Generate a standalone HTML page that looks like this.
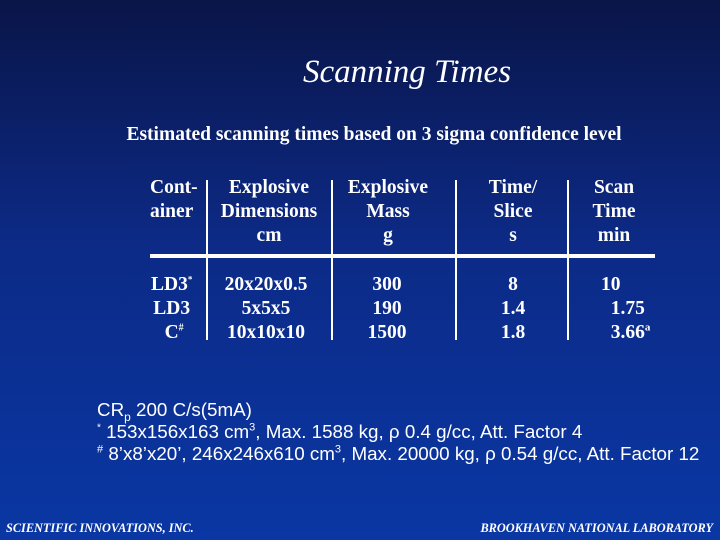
<!DOCTYPE html>
<html><head><meta charset="utf-8"><style>
body{margin:0;width:720px;height:540px;overflow:hidden;background:linear-gradient(180deg,#0a1548 0%,#0c2a86 45%,#0a37a4 100%);position:relative;font-family:"Liberation Serif",serif;color:#fff}
.t{position:absolute;white-space:nowrap;font-weight:bold;font-size:19.5px;line-height:24px}
.c{transform:translateX(-50%);text-align:center}
.v{position:absolute;width:2px;background:#fff;top:180px;height:160px}
.f{position:absolute;font-family:"Liberation Sans",sans-serif;font-size:18.8px;white-space:nowrap;line-height:22px}
.ft{position:absolute;top:521px;font-style:italic;font-weight:bold;font-size:12.3px}
sup,sub{line-height:0}
</style></head><body>
<div class="t c" style="left:407px;top:53px;font-size:33px;line-height:38px;font-style:italic;font-weight:normal">Scanning Times</div>
<div class="t c" style="left:374px;top:123px">Estimated scanning times based on 3 sigma confidence level</div>
<div>
<div class="v" style="left:206px"></div>
<div class="v" style="left:331px"></div>
<div class="v" style="left:455px"></div>
<div class="v" style="left:567px"></div>
<div style="position:absolute;left:150px;top:254px;width:505px;height:4px;background:#fff"></div>
<div class="t" style="left:150px;top:176px">Cont-<br>ainer</div>
<div class="t c" style="left:269px;top:176px">Explosive<br>Dimensions<br>cm</div>
<div class="t c" style="left:388px;top:176px">Explosive<br>Mass<br>g</div>
<div class="t c" style="left:513px;top:176px">Time/<br>Slice<br>s</div>
<div class="t c" style="left:614px;top:176px">Scan<br>Time<br>min</div>
<div class="t" style="left:151px;top:273px;text-align:center">LD3<sup style="font-size:9px">*</sup><br>LD3<br>&nbsp;C<sup style="font-size:10px">#</sup></div>
<div class="t c" style="left:266px;top:273px">20x20x0.5<br>5x5x5<br>10x10x10</div>
<div class="t c" style="left:387px;top:273px">300<br>190<br>1500</div>
<div class="t c" style="left:513px;top:273px">8<br>1.4<br>1.8</div>
<div class="t" style="left:601px;top:273px">10<br>&nbsp;&nbsp;1.75<br>&nbsp;&nbsp;3.66<sup style="font-size:11px">a</sup></div>
</div>
<div class="f" style="left:97px;top:399px">CR<sub style="font-size:12px">p</sub> 200 C/s(5mA)</div>
<div class="f" style="left:97px;top:421px"><sup style="font-size:10px">*</sup> 153x156x163 cm<sup style="font-size:11px">3</sup>, Max. 1588 kg, ρ 0.4 g/cc, Att. Factor 4</div>
<div class="f" style="left:97px;top:443px"><sup style="font-size:11px">#</sup> 8’x8’x20’, 246x246x610 cm<sup style="font-size:11px">3</sup>, Max. 20000 kg, ρ 0.54 g/cc, Att. Factor 12</div>
<div class="ft" style="left:6px">SCIENTIFIC INNOVATIONS, INC.</div>
<div class="ft" style="right:7px">BROOKHAVEN NATIONAL LABORATORY</div>
</body></html>
